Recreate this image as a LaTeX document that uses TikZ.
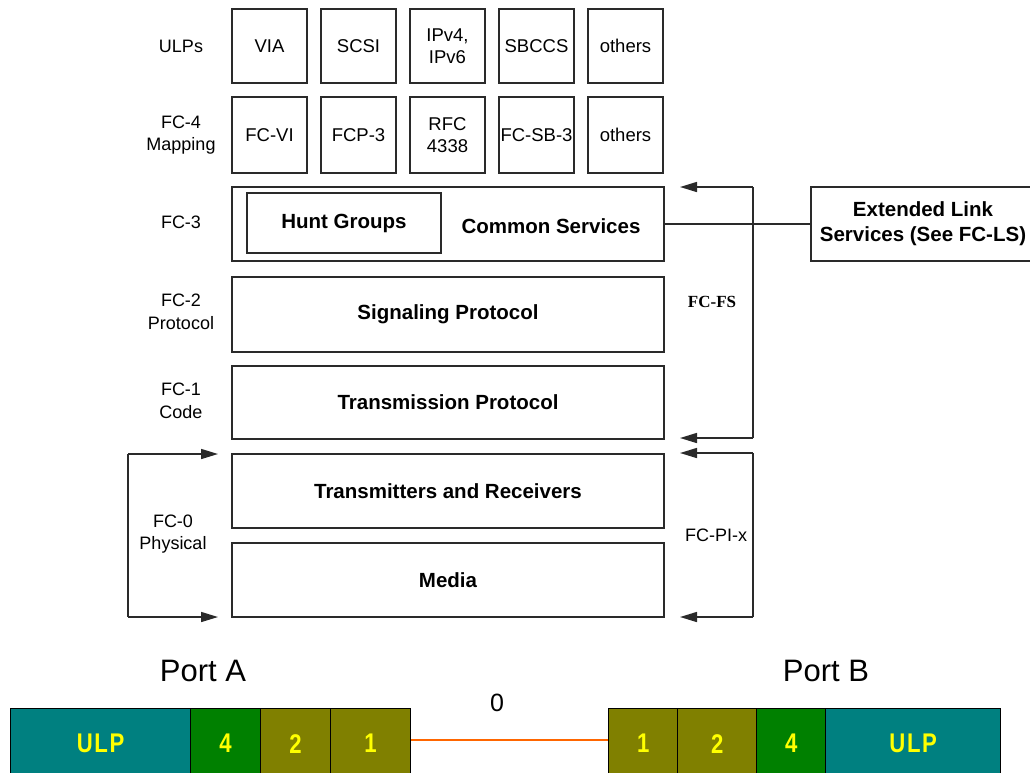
\documentclass[tikz,border=0pt]{standalone}
\usepackage{fontspec}
\setmainfont{Liberation Sans}
\newfontfamily\serifbold{Liberation Serif}
\usetikzlibrary{arrows.meta}
\definecolor{ulpteal}{HTML}{008080}
\definecolor{fcgreen}{HTML}{008000}
\definecolor{fcolive}{HTML}{808000}
\definecolor{fcyellow}{HTML}{FFFF00}
\definecolor{linkorange}{HTML}{FF6600}
\definecolor{boxline}{HTML}{2A2A2A}
\newcommand{\narrowtxt}[1]{\scalebox{0.82}[1]{#1}}
\begin{document}
\begin{tikzpicture}[x=1pt,y=-1pt,
  box/.style={draw=boxline, line width=1.8pt, inner sep=0pt, align=center,
    font=\fontsize{18.5}{22}\selectfont},
  smallbox/.style={box, minimum width=75pt},
  boldtxt/.style={font=\fontsize{20.5}{24}\selectfont\bfseries},
  widebox/.style={box, minimum width=432pt, boldtxt},
  lbl/.style={inner sep=0pt, align=center, font=\fontsize{18}{22.5}\selectfont},
  brk/.style={draw=boxline, line width=1.5pt},
  arr/.style={brk, -{Triangle[length=17pt,width=10pt]}},
  cell/.style={draw=black, line width=1.3pt, inner sep=0pt, minimum height=70pt,
    text=fcyellow, font=\fontsize{27}{29}\selectfont\bfseries},
  port/.style={inner sep=0pt, font=\fontsize{31}{33}\selectfont}
]
\useasboundingbox (0,0) rectangle (1030,772);
\clip (0,0) rectangle (1030,772);
\fill[white] (0,0) rectangle (1030,772);

% ULP row
\node[smallbox, minimum height=74pt] (via)   at (269.5,46) {VIA};
\node[smallbox, minimum height=74pt] (scsi)  at (358.5,46) {SCSI};
\node[smallbox, minimum height=74pt] (ipv)   at (447.5,46) {IPv4,\\IPv6};
\node[smallbox, minimum height=74pt] (sbccs) at (536.5,46) {SBCCS};
\node[smallbox, minimum height=74pt] (oth1)  at (625.5,46) {others};
% FC-4 row
\node[smallbox, minimum height=76pt] (fcvi)  at (269.5,135) {FC-VI};
\node[smallbox, minimum height=76pt] (fcp)   at (358.5,135) {FCP-3};
\node[smallbox, minimum height=76pt] (rfc)   at (447.5,135) {RFC\\4338};
\node[smallbox, minimum height=76pt] (fcsb)  at (536.5,135) {FC-SB-3};
\node[smallbox, minimum height=76pt] (oth2)  at (625.5,135) {others};

% FC-3
\node[widebox, minimum height=74pt] (fc3) at (448,224) {};
\node[box, boldtxt, minimum width=194pt, minimum height=60pt] (hunt) at (344,223) {Hunt Groups};
\node[lbl, boldtxt] (common) at (551,226) {Common Services};
% FC-2, FC-1, FC-0
\node[widebox, minimum height=75pt] (sig)   at (448,314.5) {Signaling Protocol};
\node[widebox, minimum height=73pt] (trans) at (448,402.5) {Transmission Protocol};
\node[widebox, minimum height=74pt] (txrx)  at (448,491) {Transmitters and Receivers};
\node[widebox, minimum height=74pt] (media) at (448,580) {Media};

% Extended link services
\node[box, boldtxt, minimum width=224pt, minimum height=74pt, font=\fontsize{20.5}{25}\selectfont\bfseries] (els) at (923,224) {Extended Link\\Services (See FC-LS)};
\draw[brk, line width=1.3pt] (fc3.east) -- (els.west);

% left labels
\node[lbl] (l1) at (181,46) {ULPs};
\node[lbl] (l2) at (181,135) {FC-4\\Mapping};
\node[lbl] (l3) at (181,222) {FC-3};
\node[lbl] (l4) at (181,312) {FC-2\\Protocol};
\node[lbl] (l5) at (181,401) {FC-1\\Code};
\node[lbl] (l6) at (173,534) {FC-0\\Physical};

% right brackets
\coordinate (fsT) at (753,187);
\coordinate (fsB) at (753,438);
\coordinate (fsTa) at (680,187);
\coordinate (fsBa) at (680,438);
\draw[brk] (fsT) -- (fsB);
\draw[arr] (fsT) -- (fsTa);
\draw[arr] (fsB) -- (fsBa);
\node[inner sep=0pt, font=\serifbold\fontsize{17}{19}\selectfont\bfseries] (fcfs) at (712,302) {FC-FS};

\coordinate (piT) at (753,453);
\coordinate (piB) at (753,617);
\coordinate (piTa) at (680,453);
\coordinate (piBa) at (680,617);
\draw[brk] (piT) -- (piB);
\draw[arr] (piT) -- (piTa);
\draw[arr] (piB) -- (piBa);
\node[lbl] (fcpi) at (716,535) {FC-PI-x};

% left bracket
\coordinate (lbT) at (128,454);
\coordinate (lbB) at (128,617);
\coordinate (lbTa) at (218,454);
\coordinate (lbBa) at (218,617);
\draw[brk] (lbT) -- (lbB);
\draw[arr] (lbT) -- (lbTa);
\draw[arr] (lbB) -- (lbBa);

% bottom ports
\node[port] (pa) at (203,671) {Port A};
\node[port] (pb) at (826,671) {Port B};
\node[port, font=\fontsize{25}{27}\selectfont] (zero) at (497,703) {0};

\node[cell, fill=ulpteal,  minimum width=180pt, anchor=north west] (aulp) at (10,708) {\narrowtxt{U\kern2pt L\kern2pt P}};
\node[cell, fill=fcgreen,  minimum width=70pt,  anchor=north west] (a4)   at (190,708) {\narrowtxt{4}};
\node[cell, fill=fcolive,  minimum width=70pt,  anchor=north west] (a2)   at (260,708) {\narrowtxt{2}};
\node[cell, fill=fcolive,  minimum width=80pt,  anchor=north west] (a1)   at (330,708) {\narrowtxt{1}};

\node[cell, fill=fcolive,  minimum width=69pt,  anchor=north west] (b1)   at (608,708) {\narrowtxt{1}};
\node[cell, fill=fcolive,  minimum width=79pt,  anchor=north west] (b2)   at (677,708) {\narrowtxt{2}};
\node[cell, fill=fcgreen,  minimum width=69pt,  anchor=north west] (b4)   at (756,708) {\narrowtxt{4}};
\node[cell, fill=ulpteal,  minimum width=175pt, anchor=north west] (bulp) at (825,708) {\narrowtxt{U\kern2pt L\kern2pt P}};

\draw[linkorange, line width=2.8pt] (a1.east |- 0,740) -- (b1.west |- 0,740);
\end{tikzpicture}
\end{document}
